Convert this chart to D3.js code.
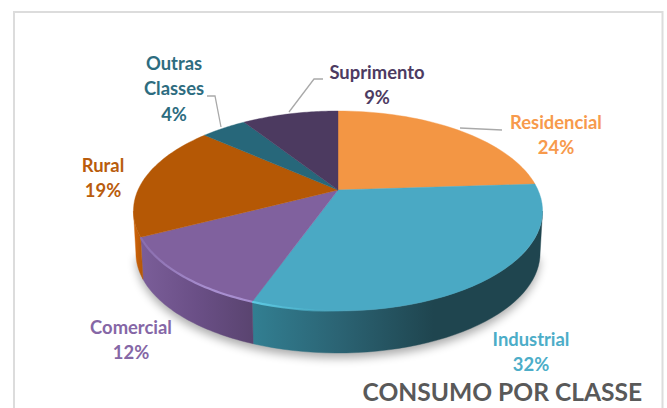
<!DOCTYPE html>
<html><head><meta charset="utf-8">
<script src="https://cdnjs.cloudflare.com/ajax/libs/d3/7.8.5/d3.min.js"></script>
<style>html,body{margin:0;padding:0;background:#fff}svg{display:block}text{font-family:Lato,"Open Sans",sans-serif;font-weight:700}</style>
</head><body><svg id="c" width="667" height="408"></svg>
<script>
const categories = ["Residencial","Industrial","Comercial","Rural","Outras Classes","Suprimento"];
const values = [24,31.6,12,18.7,4.4,9.3];
const percentLabels = ["24%","32%","12%","19%","4%","9%"];
const topColors = ["#f39644","#4aa9c4","#80619e","#b55805","#27677a","#4c3a60"];
const labelColors = ["#f79a4c","#4cadc8","#8567a6","#b95c0c","#2d6c80","#4d3b62"];
const titleText = "CONSUMO POR CLASSE";

// layout
const labelLines = [["Residencial","24%"],["Industrial","32%"],["Comercial","12%"],["Rural","19%"],["Outras","Classes","4%"],["Suprimento","9%"]];
const labelX = [556,531,131,103,174,377];
const labelY = [129,346,334,172,70,79];
const leaders = [[[460,128],[502,130]],null,null,null,[[221,127],[215,96],[207,96]],[[289,112],[314,79],[323,79]]];
const cx=338, cy=190, a=200, b=95.6, k=0.21, depth=42, lineStep=25.4;
const visFrom=Math.acos(-k), visTo=2*Math.PI-Math.acos(-k);

const project=(t,d=0)=>{const w=1+k*Math.cos(t);
  const x=cx+a*Math.sin(t)/w, y=cy-b*Math.cos(t)/w;
  return [cx+(x-cx)*(1-d*0.012/depth), y+d];};
const samples=(t0,t1,d=0)=>d3.range(0,41).map(i=>project(t0+(t1-t0)*i/40,d));
const line=d3.line();

const svg=d3.select("#c");
const defs=svg.append("defs");
const blur=(id,s)=>defs.append("filter").attr("id",id).attr("x","-20%").attr("y","-20%").attr("width","140%").attr("height","140%").append("feGaussianBlur").attr("stdDeviation",s);
blur("shadow",5); blur("soft",0.7); blur("soft2",0.6);
const grad=(id,stops,x1,x2)=>{const g=defs.append("linearGradient").attr("id",id).attr("gradientUnits","userSpaceOnUse").attr("x1",x1).attr("x2",x2).attr("y1",0).attr("y2",0);
  stops.forEach(s=>g.append("stop").attr("offset",s[0]).attr("stop-color",s[1]).attr("stop-opacity",s[2]===undefined?1:s[2]));};
grad("wall1",[[0,"#327f92"],[0.3,"#2b6373"],[0.62,"#1f454f"],[1,"#1f454f"]],252,545);
grad("wall2",[[0,"#7a5d98"],[0.5,"#6a4f86"],[1,"#5a4470"]],143,252);
grad("wall3",[[0,"#d2650a"],[1,"#a95205"]],133,146);
grad("rim1",[[0,"#5fcbe5"],[0.5,"#52bdd6",0.7],[1,"#4aa9c4",0]],252,345);
grad("rim2",[[0,"#8a6eae"],[0.6,"#a88fd0"],[1,"#a78ecf"]],143,252);
const wallFill={1:"url(#wall1)",2:"url(#wall2)",3:"url(#wall3)"};
const rimStroke={1:"url(#rim1)",2:"url(#rim2)"};

// frame
svg.append("path").attr("d",line([[14,408],[14,12],[662.5,12],[662.5,408]])).attr("fill","none").attr("stroke","#dcdcdc").attr("stroke-width",2);

const arcs=d3.pie().sort(null).startAngle(0).endAngle(2*Math.PI)(values);

// shadow under the body
svg.append("path").attr("d",line(samples(visFrom,visTo,depth+5))+"Z").attr("fill","#000").attr("opacity",0.33).attr("filter","url(#shadow)");

// side walls
arcs.forEach((s,i)=>{
  const t0=Math.max(s.startAngle,visFrom), t1=Math.min(s.endAngle,visTo);
  if(t1<=t0) return;
  const pts=samples(t0,t1,0).concat(samples(t0,t1,depth).reverse());
  svg.append("path").attr("d",line(pts)+"Z").attr("fill",wallFill[i]).attr("stroke",wallFill[i]).attr("stroke-width",0.4);
});
// top face
arcs.forEach((s,i)=>{
  svg.append("path").attr("d",line([[cx,cy]].concat(samples(s.startAngle,s.endAngle)))+"Z")
    .attr("fill",topColors[i]).attr("stroke",topColors[i]).attr("stroke-width",0.4);
});
// bevel highlight at the front rim
arcs.forEach((s,i)=>{
  if(!rimStroke[i]) return;
  svg.append("path").attr("d",line(samples(Math.max(s.startAngle,visFrom),Math.min(s.endAngle,visTo)))).attr("fill","none")
    .attr("stroke",rimStroke[i]).attr("stroke-width",2.2).attr("filter","url(#soft2)");
});
// leaders
leaders.forEach(l=>{ if(l) svg.append("path").attr("d",line(l)).attr("fill","none").attr("stroke","#a9a9a9").attr("stroke-width",1.3); });
// labels
categories.forEach((c,i)=>{
  const t=svg.append("text").attr("text-anchor","middle").attr("fill",labelColors[i]).attr("font-size",18.4);
  labelLines[i].forEach((s,j)=>t.append("tspan").attr("x",labelX[i]).attr("y",labelY[i]+j*lineStep).text(s));
});
svg.append("text").attr("x",362.5).attr("y",401).attr("fill","#595959").attr("font-size",24.6).text(titleText);
</script></body></html>
